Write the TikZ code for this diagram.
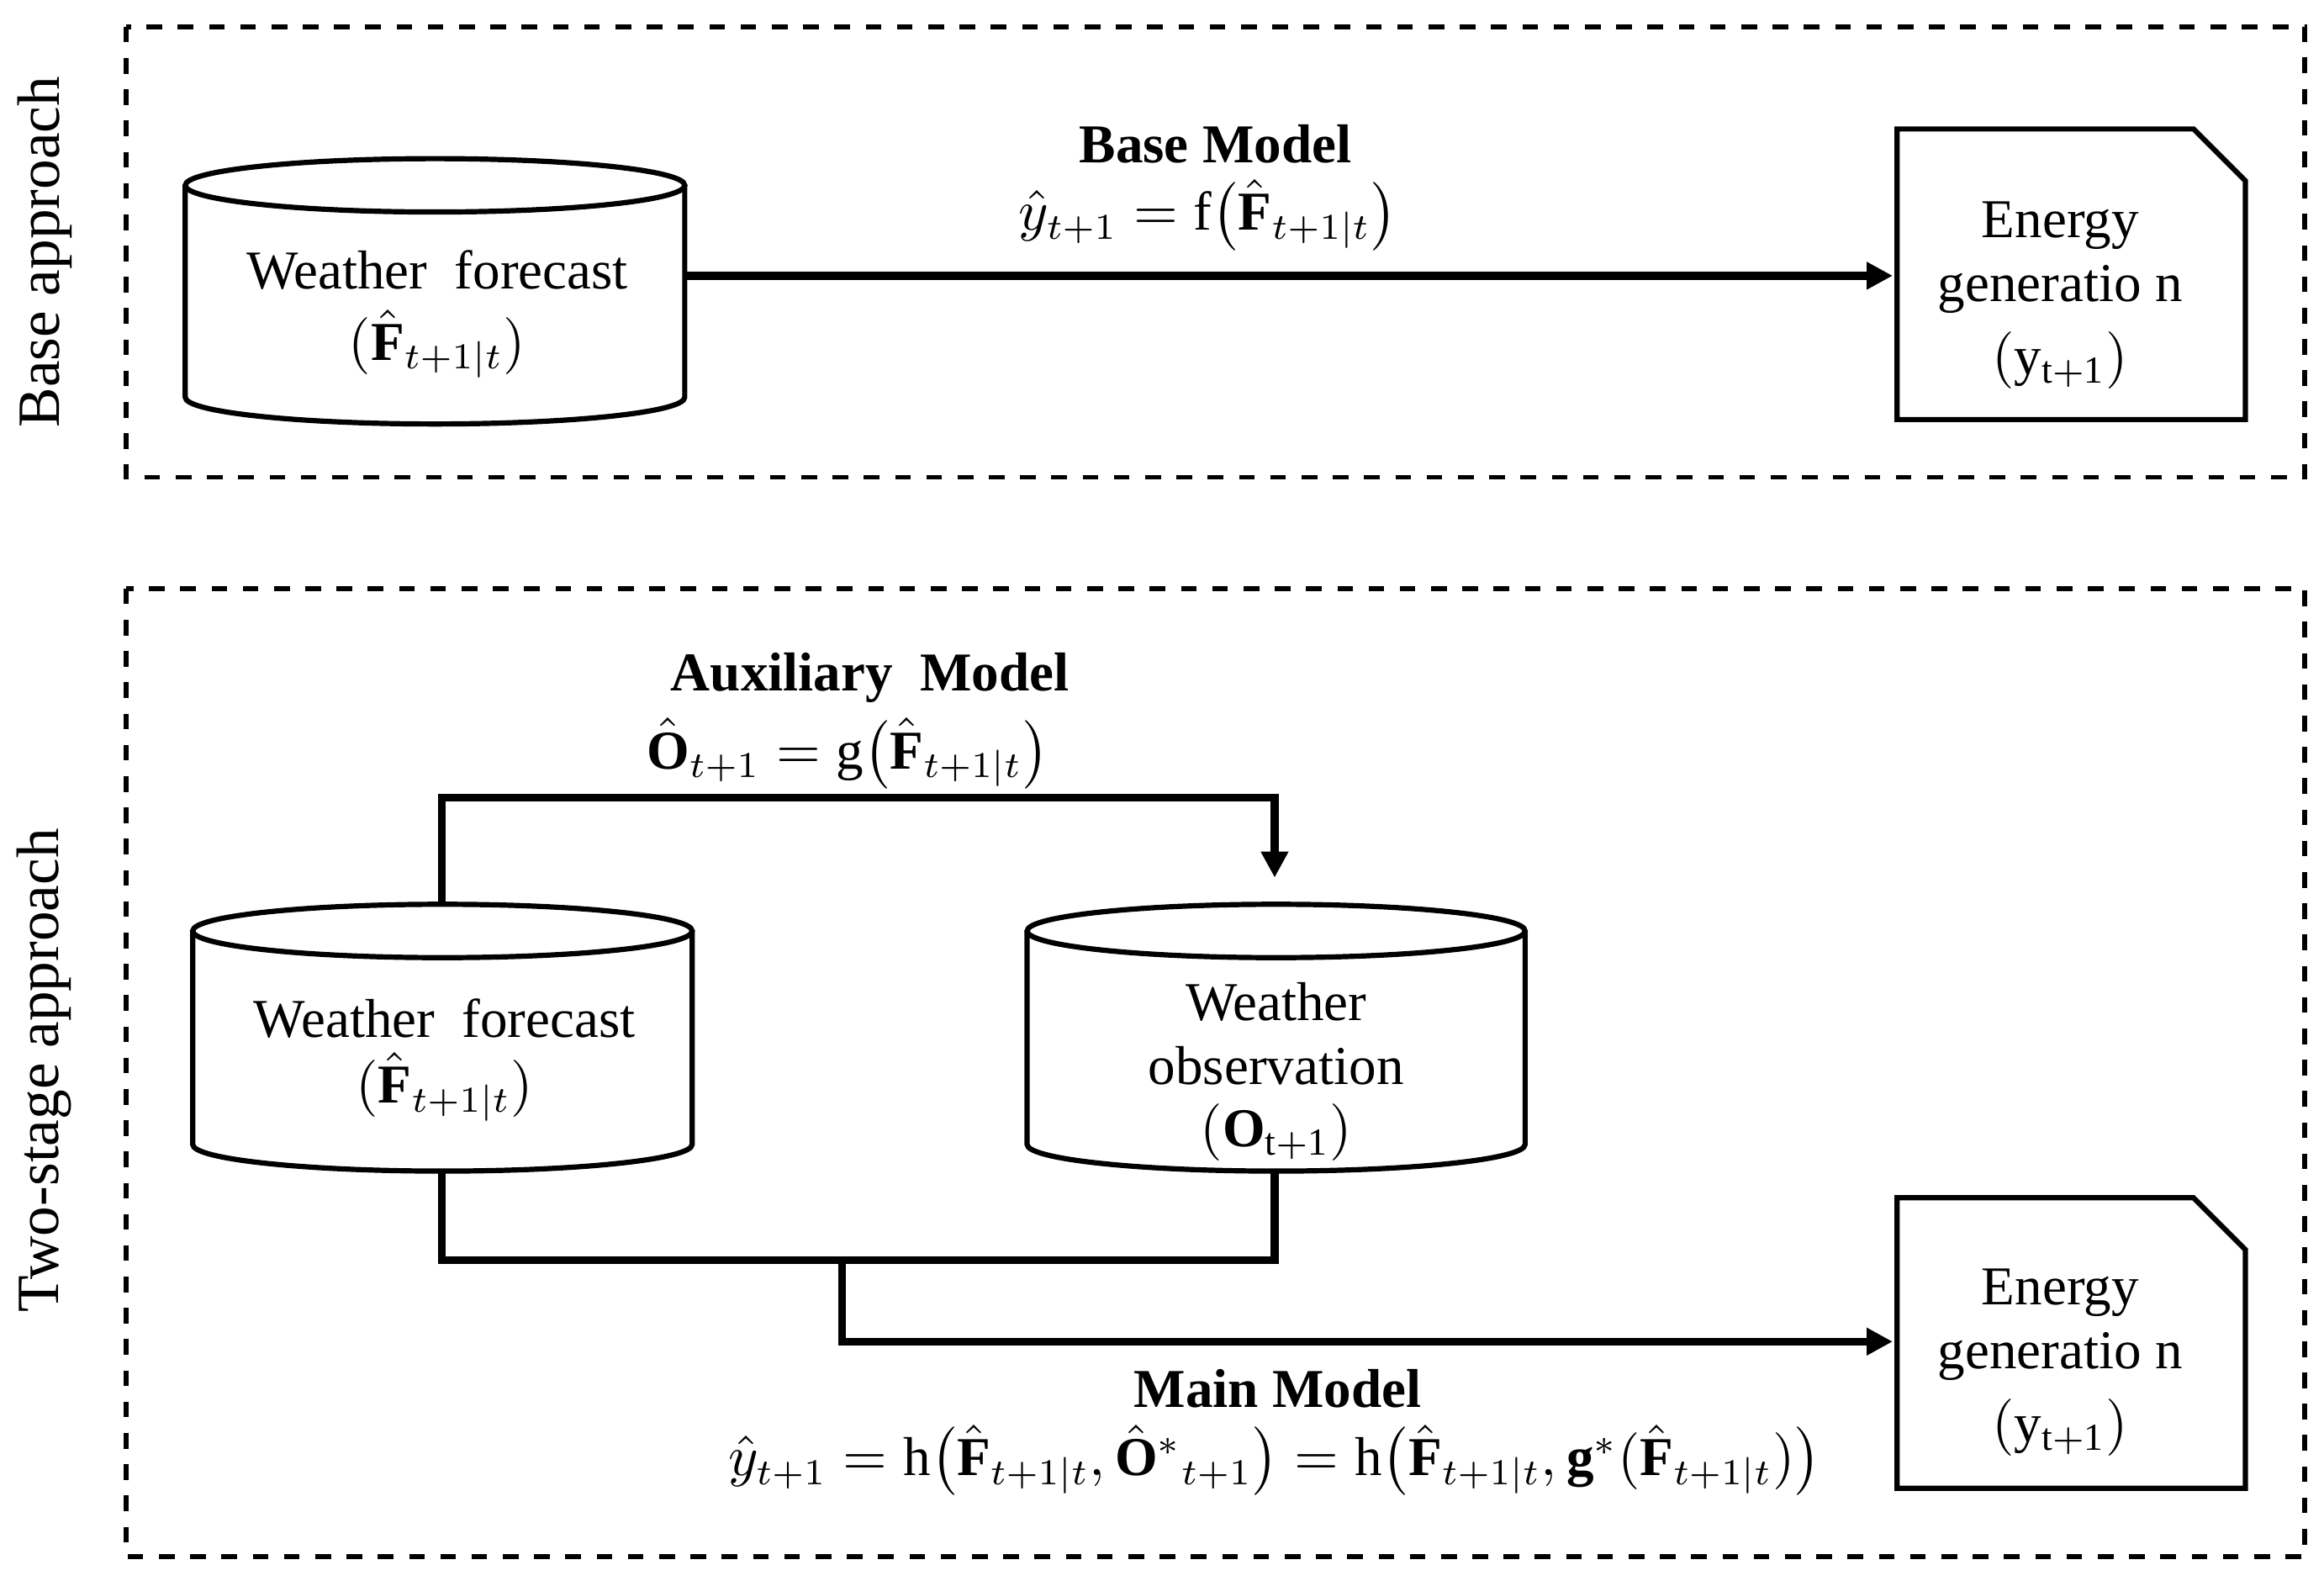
\documentclass[tikz,border=0pt]{standalone}
\usepackage{amsmath}
\usepackage{fontspec}
\setmainfont{Liberation Serif}
\usetikzlibrary{arrows.meta}
\begin{document}
\begin{tikzpicture}[x=0.01cm,y=-0.01cm,
  box/.style={dashed,line width=0.9pt},
  shp/.style={line width=1pt,fill=white},
  con/.style={line width=1.5pt},
  arr/.style={con,-{Triangle[length=5pt,width=5pt]}},
  txt/.style={font=\fontsize{10.5}{12}\selectfont,align=center,inner sep=0pt},
  side/.style={font=\fontsize{11.5}{13}\selectfont,rotate=90,inner sep=0pt}]
\useasboundingbox (0,0) rectangle (1568,1066);
% boxes
\draw[box] (85,18) rectangle (1555,322);
\draw[box] (85,397) rectangle (1555,1050);
\node[side] (l1) at (30,170) {Base approach};
\node[side] (l2) at (30,722) {Two-stage approach};
\newcommand{\mycyl}[4]{% x1 x2 ytop ybot
  \draw[shp] (#1,#3) -- (#1,#4) arc[start angle=180,end angle=0,x radius={(#2-#1)/2},y radius=18] -- (#2,#3);
  \draw[shp] ({(#1+#2)/2},#3) ellipse[x radius={(#2-#1)/2},y radius=18];}
\mycyl{125}{462}{125}{268}
\mycyl{130}{467}{628}{772}
\mycyl{693}{1029}{628}{772}
\newcommand{\mydoc}[3]{\draw[shp] (#1,#3) -- (#1,{#3+196}) -- (#2,{#3+196}) -- (#2,{#3+35}) -- ({#2-35},#3) -- cycle;}
\mydoc{1280}{1515}{87}
\mydoc{1280}{1515}{808}
% texts
\node[txt] (wf1) at (295,182) {Weather\ \ forecast};
\node[txt] (wf1b) at (295,232) {$(\hat{\mathbf{F}}_{t+1|t})$};
\node[txt] (eg1) at (1390,152) {Energy};
\node[txt] (eg1b) at (1390,195) {generatio n};
\node[txt] (eg1c) at (1390,243) {$(\mathrm{y}_{\mathrm{t+1}})$};
\node[txt] (wf2) at (300,687) {Weather\ \ forecast};
\node[txt] (wf2b) at (300,733) {$(\hat{\mathbf{F}}_{t+1|t})$};
\node[txt] (wo) at (861,676) {Weather};
\node[txt] (wob) at (861,719) {observation};
\node[txt] (woc) at (861,764) {$(\mathbf{O}_{\mathrm{t+1}})$};
\node[txt] (eg2) at (1390,872) {Energy};
\node[txt] (eg2b) at (1390,915) {generatio n};
\node[txt] (eg2c) at (1390,963) {$(\mathrm{y}_{\mathrm{t+1}})$};
% labels
\node[txt,font=\fontsize{10.5}{12}\selectfont\bfseries] (bm) at (820,97) {Base Model};
\node[txt] (bmf) at (815,145) {$\hat{y}_{t+1}=\mathrm{f}\big(\hat{\mathbf{F}}_{t+1|t}\big)$};
\node[txt,font=\fontsize{10.5}{12}\selectfont\bfseries] (am) at (587,457) {Auxiliary\ \ Model};
\node[txt] (amf) at (572,508) {$\hat{\mathbf{O}}_{t+1}=\mathrm{g}\big(\hat{\mathbf{F}}_{t+1|t}\big)$};
\node[txt,font=\fontsize{10.5}{12}\selectfont\bfseries] (mm) at (862,937) {Main Model};
\node[txt] (mmf) at (860,985) {$\hat{y}_{t+1}=\mathrm{h}\big(\hat{\mathbf{F}}_{t+1|t},\hat{\mathbf{O}}^{*}{}_{t+1}\big)=\mathrm{h}\big(\hat{\mathbf{F}}_{t+1|t},\mathbf{g}^{*}(\hat{\mathbf{F}}_{t+1|t})\big)$};
% connectors
\coordinate (a1) at (462,186); \coordinate (a2) at (1277,186);
\draw[arr] (a1) -- (a2);
\coordinate (b1) at (298,610); \coordinate (b2) at (860,592);
\draw[arr] (b1) |- (860,538) -- (b2);
\coordinate (c1) at (298,790); \coordinate (c2) at (860,790); \coordinate (c3) at (568,850); \coordinate (c4) at (1277,905);
\draw[con] (c1) |- (c3) -| (c2);
\draw[arr] (c3) |- (c4);
\end{tikzpicture}
\end{document}
